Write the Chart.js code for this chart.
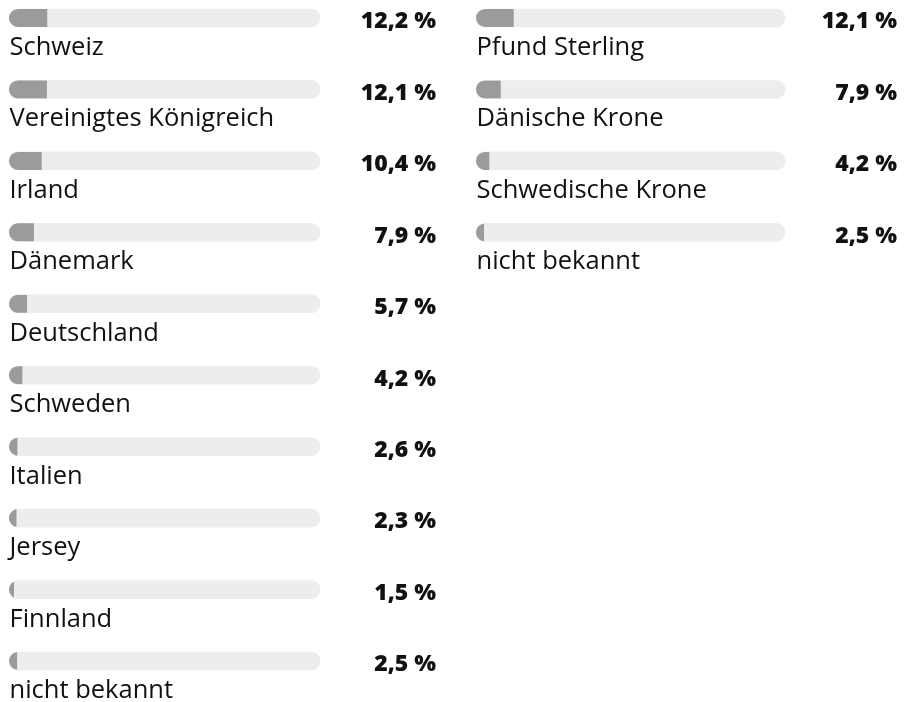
<!DOCTYPE html>
<html>
<head>
<meta charset="utf-8">
<script src="https://cdn.jsdelivr.net/npm/chart.js@4"></script>
<style>
  html, body { margin: 0; padding: 0; background: #ffffff; width: 906px; height: 702px; overflow: hidden; }
  canvas { position: absolute; top: 0; }
  #cLeft { left: 0; }
  #cRight { left: 453px; }
</style>
</head>
<body>
<canvas id="cLeft" width="453" height="702"></canvas>
<canvas id="cRight" width="453" height="274"></canvas>
<script>
// Anteile nach Land
const countryLabels = ['Schweiz', 'Vereinigtes Königreich', 'Irland', 'Dänemark', 'Deutschland',
                       'Schweden', 'Italien', 'Jersey', 'Finnland', 'nicht bekannt'];
const countryValues = [12.2, 12.1, 10.4, 7.9, 5.7, 4.2, 2.6, 2.3, 1.5, 2.5];

// Anteile nach Währung
const currencyLabels = ['Pfund Sterling', 'Dänische Krone', 'Schwedische Krone', 'nicht bekannt'];
const currencyValues = [12.1, 7.9, 4.2, 2.5];

const scaleMax = 100;

const TRACK = '#ededed';
const FILL = '#9b9b9b';
const INK = '#111111';
const LABEL_FONT = '25.5px "Open Sans"';
const VALUE_FONT = '800 23px "Open Sans"';

const fmt = v => v.toLocaleString('de-DE', { minimumFractionDigits: 1, maximumFractionDigits: 1 }) + ' %';

// Clip the value bars to the rounded shape of their tracks
const trackClip = {
  id: 'trackClip',
  beforeDatasetDraw(chart, args) {
    if (args.index !== 0) return;
    const ctx = chart.ctx;
    ctx.save();
    ctx.beginPath();
    chart.getDatasetMeta(1).data.forEach(el => {
      const p = el.getProps(['x', 'y', 'base', 'height'], true);
      ctx.roundRect(p.base, p.y - p.height / 2, p.x - p.base, p.height, p.height / 2);
    });
    ctx.clip();
  },
  afterDatasetDraw(chart, args) {
    if (args.index === 0) chart.ctx.restore();
  }
};

// Category name under each track, value on the right
const rowText = {
  id: 'rowText',
  afterDatasetsDraw(chart, args, opts) {
    const ctx = chart.ctx;
    const labels = chart.data.labels;
    const values = chart.data.datasets[0].data;
    ctx.save();
    ctx.fillStyle = INK;
    ctx.textBaseline = 'alphabetic';
    chart.getDatasetMeta(1).data.forEach((el, i) => {
      const p = el.getProps(['y', 'base'], true);
      ctx.font = LABEL_FONT;
      ctx.textAlign = 'left';
      ctx.fillText(labels[i], p.base + 0.5, p.y + 37);
      ctx.font = VALUE_FONT;
      ctx.textAlign = 'right';
      ctx.fillText(fmt(values[i]), opts.valueRight, p.y + 10.3);
    });
    ctx.restore();
  }
};

function makeChart(id, labels, values, padding, valueRight) {
  return new Chart(document.getElementById(id), {
    type: 'bar',
    data: {
      labels: labels,
      datasets: [
        {
          data: values,
          backgroundColor: FILL,
          barThickness: 18,
          borderRadius: 0,
          grouped: false,
          order: 0,
          clip: false
        },
        {
          data: labels.map(() => scaleMax),
          backgroundColor: TRACK,
          barThickness: 18,
          borderRadius: 9,
          borderSkipped: false,
          grouped: false,
          order: 1,
          clip: false
        }
      ]
    },
    options: {
      indexAxis: 'y',
      responsive: false,
      animation: false,
      events: [],
      layout: { padding: padding },
      scales: {
        x: { display: false, min: 0, max: scaleMax },
        y: { display: false, offset: false }
      },
      plugins: {
        legend: { display: false },
        tooltip: { enabled: false },
        rowText: { valueRight: valueRight }
      }
    },
    plugins: [trackClip, rowText]
  });
}

document.fonts.load(LABEL_FONT).then(() => document.fonts.load(VALUE_FONT)).finally(() => {
  makeChart('cLeft', countryLabels, countryValues, { left: 9, right: 133, top: 18, bottom: 41 }, 436);
  makeChart('cRight', currencyLabels, currencyValues, { left: 23, right: 121, top: 18, bottom: 41.6 }, 444);
});
</script>
</body>
</html>
